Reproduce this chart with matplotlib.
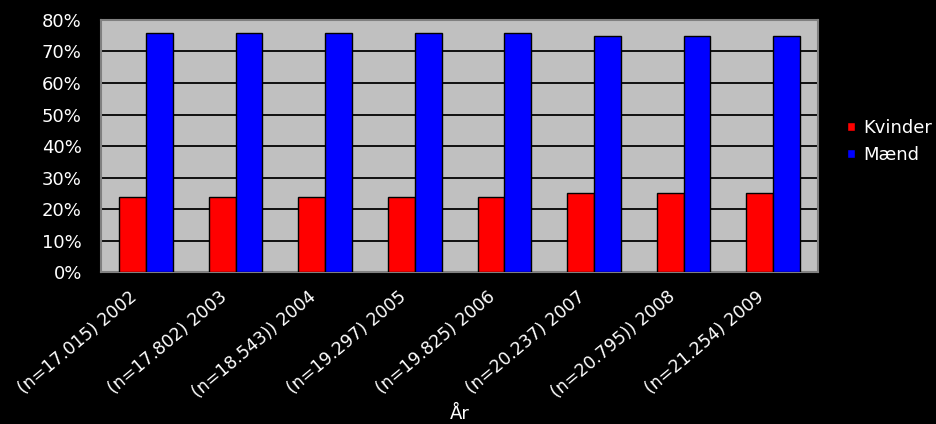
import matplotlib.pyplot as plt
import matplotlib.transforms as mtransforms
import numpy as np
from matplotlib.ticker import PercentFormatter

plt.rcParams['font.family'] = ['DejaVu Sans']

labels = ['(n=17.015) 2002', '(n=17.802) 2003', '(n=18.543)) 2004', '(n=19.297) 2005',
          '(n=19.825) 2006', '(n=20.237) 2007', '(n=20.795)) 2008', '(n=21.254) 2009']
kvinder = [24, 24, 24, 24, 24, 25, 25, 25]
maend = [76, 76, 76, 76, 76, 75, 75, 75]


def main():
    fig = plt.figure(figsize=(9.37, 4.24), dpi=100, facecolor='black')
    ax = fig.add_axes([0.108, 0.358, 0.765, 0.595])
    ax.set_facecolor('#c0c0c0')

    x = np.arange(len(labels))
    w = 0.3
    ax.bar(x - w / 2, kvinder, w, color='#ff0000', edgecolor='black', linewidth=1, label='Kvinder', zorder=3)
    ax.bar(x + w / 2, maend, w, color='#0000ff', edgecolor='black', linewidth=1, label='Mænd', zorder=3)

    ax.set_xlim(-0.5, len(labels) - 0.5)
    ax.set_ylim(0, 80)
    ax.set_yticks(range(0, 81, 10))
    ax.yaxis.set_major_formatter(PercentFormatter(decimals=0))
    ax.yaxis.grid(True, color='#101010', linewidth=1.4, zorder=1)
    ax.set_axisbelow(True)

    ax.set_xticks(x)
    ax.set_xticklabels(labels, rotation=40, ha='right', va='center', rotation_mode='anchor', fontsize=12.5)
    ax.tick_params(axis='both', colors='white', length=0)
    ax.tick_params(axis='y', labelsize=13, pad=14)
    ax.tick_params(axis='x', pad=16)
    # skub labels lidt til venstre
    shift = mtransforms.ScaledTranslation(-11 / 100, 0, fig.dpi_scale_trans)
    for lbl in ax.get_xticklabels():
        lbl.set_transform(lbl.get_transform() + shift)
    for s in ax.spines.values():
        s.set_color('#808080')
        s.set_linewidth(1.5)

    # x-aksens titel
    ax.set_xlabel('År', color='white', fontsize=13)
    ax.xaxis.set_label_coords(0.5, -0.525)

    ax.legend(loc='center left', bbox_to_anchor=(1.03, 0.518), frameon=False, borderaxespad=0,
              labelcolor='white', fontsize=13, handlelength=0.45, handleheight=0.45,
              handletextpad=0.45, labelspacing=0.5)

    fig.savefig('out.png', facecolor='black')


if __name__ == '__main__':
    main()
